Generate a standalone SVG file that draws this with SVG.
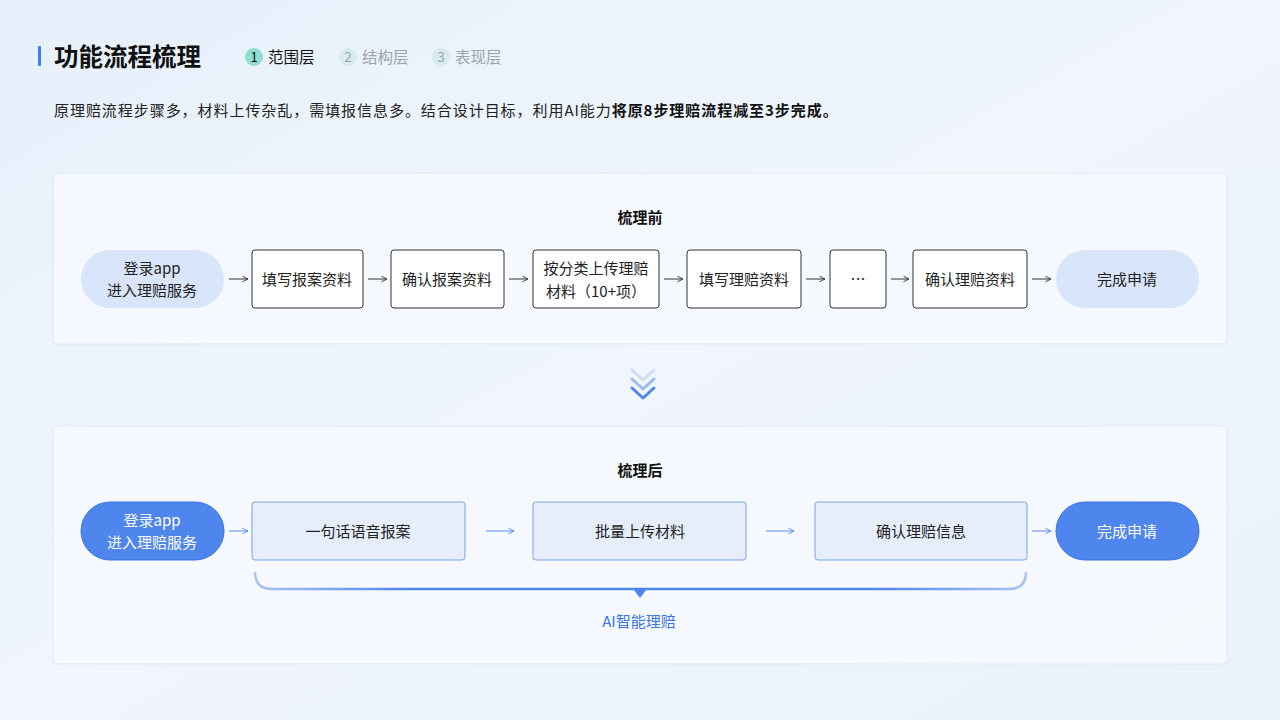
<svg xmlns="http://www.w3.org/2000/svg" width="1280" height="720" viewBox="0 0 1280 720">
<defs>
<linearGradient id="bg" x1="0" y1="0" x2="1" y2="1"><stop offset="0" stop-color="#e6f0fb"/><stop offset="0.5" stop-color="#f1f6fd"/><stop offset="1" stop-color="#eaf1fb"/></linearGradient>
<marker id="ah" viewBox="0 0 10 10" refX="9" refY="5" markerWidth="7" markerHeight="7" orient="auto"><path d="M1 1 L9 5 L1 9" fill="none" stroke="#333" stroke-width="1.3"/></marker>
<marker id="ahb" viewBox="0 0 10 10" refX="9" refY="5" markerWidth="7" markerHeight="7" orient="auto"><path d="M1 1 L9 5 L1 9" fill="none" stroke="#5b8ef0" stroke-width="1.3"/></marker>
<linearGradient id="brk" x1="0" y1="0" x2="1" y2="0"><stop offset="0" stop-color="#a9c4f5"/><stop offset="0.2" stop-color="#4f86ee"/><stop offset="0.8" stop-color="#4f86ee"/><stop offset="1" stop-color="#a9c4f5"/></linearGradient>
</defs>
<style>
text{font-family:"Noto Sans CJK SC","Noto Sans",sans-serif;}
.t{font-size:15px;fill:#222;text-anchor:middle;}
.box{fill:#fff;stroke:#333;stroke-width:1;}
.panel{fill:#f7faff;fill-opacity:0.8;stroke:#dfe8f5;}
.pill0{fill:#d9e5fa;}
.pill1{fill:#4f86ee;stroke:#3b74e6;}
.bb{fill:#e6eefc;stroke:#7ba2ee;stroke-width:1;}
.ar{stroke:#333;stroke-width:1;marker-end:url(#ah);}
.arb{stroke:#5b8ef0;stroke-width:1;marker-end:url(#ahb);}
</style>
<rect width="1280" height="720" fill="url(#bg)"/>
<g id="header">
<rect x="38" y="46" width="3" height="20" rx="1" fill="#3f7ff0"/>
<text x="54" y="66" font-size="24.5" font-weight="bold" fill="#111">功能流程梳理</text>
<circle cx="254" cy="57" r="9" fill="#8fdcd0"/><text x="254" y="62" font-size="13" text-anchor="middle" fill="#111">1</text>
<text x="268" y="63" font-size="15.5" fill="#111">范围层</text>
<circle cx="348" cy="57" r="9" fill="#d5ebee"/><text x="348" y="62" font-size="13" text-anchor="middle" fill="#9aa4b0">2</text>
<text x="362" y="63" font-size="15.5" fill="#9aa4b0">结构层</text>
<circle cx="441" cy="57" r="9" fill="#d5ebee"/><text x="441" y="62" font-size="13" text-anchor="middle" fill="#9aa4b0">3</text>
<text x="455" y="63" font-size="15.5" fill="#9aa4b0">表现层</text>
<text x="54" y="116" font-size="15" letter-spacing="0.95" fill="#222">原理赔流程步骤多，材料上传杂乱，需填报信息多。结合设计目标，利用AI能力<tspan font-weight="bold" fill="#111">将原8步理赔流程减至3步完成。</tspan></text>
</g>
<g id="panel-before">
<rect class="panel" x="53" y="173" width="1174" height="171" rx="4"/>
<text x="640" y="223" font-size="15" font-weight="bold" fill="#111" text-anchor="middle">梳理前</text>
</g>
<g id="b1"><rect class="pill0" x="81" y="250" width="143" height="58" rx="29"/><text class="t" x="152" y="274">登录app</text><text class="t" x="152" y="296">进入理赔服务</text></g>
<g id="b2"><rect class="box" x="252" y="250" width="111" height="58" rx="3"/><text class="t" x="307" y="285">填写报案资料</text></g>
<g id="b3"><rect class="box" x="391" y="250" width="113" height="58" rx="3"/><text class="t" x="447" y="285">确认报案资料</text></g>
<g id="b4"><rect class="box" x="533" y="250" width="126" height="58" rx="3"/><text class="t" x="596" y="274">按分类上传理赔</text><text class="t" x="596" y="297">材料（10+项）</text></g>
<g id="b5"><rect class="box" x="687" y="250" width="114" height="58" rx="3"/><text class="t" x="744" y="285">填写理赔资料</text></g>
<g id="b6"><rect class="box" x="830" y="250" width="56" height="58" rx="3"/><text class="t" x="858" y="285">…</text></g>
<g id="b7"><rect class="box" x="913" y="250" width="114" height="58" rx="3"/><text class="t" x="970" y="285">确认理赔资料</text></g>
<g id="b8"><rect class="pill0" x="1056" y="250" width="143" height="58" rx="29"/><text class="t" x="1127" y="285">完成申请</text></g>
<g id="chevrons" fill="none" stroke-width="3" stroke-linecap="round" stroke-linejoin="round">
<path d="M632 370 L643 380 L654 370" stroke="#cfdcf7"/>
<path d="M632 379 L643 389 L654 379" stroke="#9ab8f2"/>
<path d="M632 388 L643 398 L654 388" stroke="#4f86ee"/>
</g>
<g id="panel-after">
<rect class="panel" x="53" y="426" width="1174" height="238" rx="4" fill="#fafcff"/>
<text x="640" y="476" font-size="15" font-weight="bold" fill="#111" text-anchor="middle">梳理后</text>
</g>
<g id="a1"><rect class="pill1" x="81" y="502" width="143" height="58" rx="29"/><text class="t" x="152" y="526" style="fill:#fff">登录app</text><text class="t" x="152" y="548" style="fill:#fff">进入理赔服务</text></g>
<g id="a2"><rect class="bb" x="252" y="502" width="213" height="58" rx="3"/><text class="t" x="358" y="537">一句话语音报案</text></g>
<g id="a3"><rect class="bb" x="533" y="502" width="213" height="58" rx="3"/><text class="t" x="640" y="537">批量上传材料</text></g>
<g id="a4"><rect class="bb" x="815" y="502" width="212" height="58" rx="3"/><text class="t" x="921" y="537">确认理赔信息</text></g>
<g id="a5"><rect class="pill1" x="1056" y="502" width="143" height="58" rx="29"/><text class="t" x="1127" y="537" style="fill:#fff">完成申请</text></g>
<g id="bracket">
<path d="M255 572 Q255 589 272 589 L1009 589 Q1026 589 1026 572" fill="none" stroke="url(#brk)" stroke-width="2.5"/>
<path d="M634 590 L646 590 L640 598 Z" fill="#4f86ee"/>
<text x="639" y="627" font-size="15" fill="#3b74e6" text-anchor="middle">AI智能理赔</text>
</g>
<g id="connectors">
<line class="ar" x1="229" y1="279" x2="248" y2="279"/>
<line class="ar" x1="368" y1="279" x2="387" y2="279"/>
<line class="ar" x1="509" y1="279" x2="528" y2="279"/>
<line class="ar" x1="664" y1="279" x2="683" y2="279"/>
<line class="ar" x1="806" y1="279" x2="825" y2="279"/>
<line class="ar" x1="891" y1="279" x2="909" y2="279"/>
<line class="ar" x1="1032" y1="279" x2="1051" y2="279"/>
<line class="arb" x1="229" y1="531" x2="248" y2="531"/>
<line class="arb" x1="486" y1="531" x2="514" y2="531"/>
<line class="arb" x1="766" y1="531" x2="794" y2="531"/>
<line class="arb" x1="1032" y1="531" x2="1051" y2="531"/>
</g>
</svg>
